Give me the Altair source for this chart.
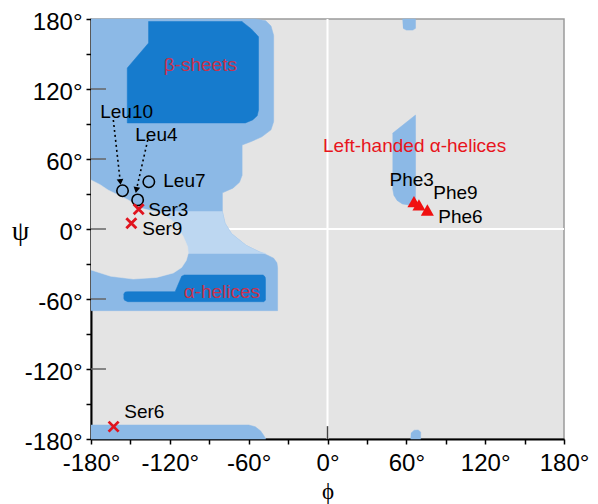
import altair as alt
import pandas as pd

# ---------------- data ----------------
# allowed regions (phi, psi) outlines
light_regions = {
    "upper_left": [(-180, 180), (-55, 180), (-47, 178.5), (-43, 174), (-41, 166), (-41, 92), (-43, 85),
                   (-50, 79), (-58, 75), (-65, 72), (-65, 46), (-67, 40), (-72, 35), (-80, 31), (-80, 15),
                   (-78, 5), (-73, -4), (-62, -14), (-52, -19.5), (-46, -22.3), (-41, -25), (-38.5, -29),
                   (-38, -33), (-38, -70), (-180, -70)],
    "bottom_strip": [(-180, -168), (-60, -168), (-55, -169.5), (-51, -173), (-48.5, -177), (-47, -180),
                     (-180, -180)],
    "left_handed": [(49.5, 82), (67, 97.7), (67, 22), (62, 20.6), (57, 21.5), (53, 24.5), (50.5, 29),
                    (49.5, 35)],
    "top_blob": [(57, 180), (67, 180), (67, 172), (65, 170.5), (60, 170.5), (57.5, 172)],
    "bottom_blob": [(63.2, -180), (70.9, -180), (70.9, -174), (69, -172.3), (66, -172.5), (63.5, -175)],
}
pale_regions = {
    "bridge": [(-180, 15), (-80, 15), (-78, 5), (-73, -4), (-62, -14), (-52, -19.5), (-47, -21),
               (-180, -21)],
}
hole_regions = {
    "hole": [(-180, 42), (-173, 38), (-167, 33.4), (-159, 29), (-151.6, 24.9), (-141.5, 17.7),
             (-131.3, 14.9), (-127.5, 13.4), (-118.6, 7.7), (-113.5, 0.6), (-109.7, -6.6), (-106.4, -15.2),
             (-106, -21), (-107.5, -27), (-111, -33), (-117.3, -37.7), (-130, -41.5), (-147.8, -42.9),
             (-165, -40.5), (-180, -35.1)],
}
dark_regions = {
    "beta_core": [(-136.2, 178), (-136.2, 159.4), (-152.4, 138), (-152.4, 90.9), (-62.5, 90.9),
                  (-57, 93.5), (-53.5, 97), (-52.5, 102), (-52.5, 164.8), (-58, 171.5), (-65, 177.7),
                  (-65, 178)],
    "alpha_core": [(-155.2, -56), (-154, -54), (-152, -53.7), (-116, -53.7), (-111, -40.5), (-109, -39.4),
                   (-49, -39.4), (-47.5, -41), (-47.2, -43), (-47.2, -61), (-48.5, -62.3), (-152, -62.3),
                   (-154.5, -61), (-155.2, -59)],
}

# residues
leu_names = ["Leu10", "Leu4", "Leu7"]
leu_phi = [-156, -144.5, -136]
leu_psi = [32.8, 24.9, 40.5]
leu_lab_phi = [-173, -146.3, -125]
leu_lab_psi = [100.3, 80.6, 41.1]

ser_names = ["Ser3", "Ser9", "Ser6"]
ser_phi = [-143.7, -149.3, -162.8]
ser_psi = [16.9, 4.9, -169.4]
ser_lab_phi = [-136.4, -141, -154.7]
ser_lab_psi = [16.3, 0, -156.9]

phe_names = ["Phe3", "Phe9", "Phe6"]
phe_phi = [65.8, 69.6, 76]
phe_psi = [23.4, 20.6, 16.3]
phe_lab_phi = [47.2, 80.5, 84.3]
phe_lab_psi = [42, 31.1, 10.5]

# dotted arrows (label -> point)
arrow_names = ["Leu10", "Leu4"]
arrow_phi0 = [-163, -136.8]
arrow_psi0 = [93.4, 76.3]
arrow_phi1 = [-157.7, -145.5]
arrow_psi1 = [40.3, 33.4]
arrow_angle = [354, 11]

region_labels = ["β-sheets", "α-helices", "Left-handed α-helices"]
region_lab_phi = [-96.8, -80.4, 66.3]
region_lab_psi = [140.6, -54, 71.4]
region_lab_color = ["#c8324e", "#c8324e", "#e8141c"]

major_ticks = [-120, -60, 0, 60, 120]
axis_ticks = list(range(-180, 181, 30))

# ---------------- helpers ----------------
def poly_df(d):
    rows = []
    for name, pts in d.items():
        for i, (x, y) in enumerate(pts):
            rows.append({"region": name, "i": i, "phi": x, "psi": y})
    return pd.DataFrame(rows)

FONT = "Liberation Sans"

X = alt.X("phi:Q",
          scale=alt.Scale(domain=[-180, 180], nice=False, zero=False),
          axis=alt.Axis(values=axis_ticks, labelExpr="datum.value % 60 == 0 ? datum.value + '°' : ''",
                        grid=False, labelFlush=False, labelOverlap=False, labelFontSize=24, labelFont=FONT,
                        labelColor="black", tickColor="black", tickSize=5, tickWidth=1.5,
                        domainColor="black", domainWidth=2, labelPadding=7,
                        title="ϕ", titleFont="Liberation Serif", titleFontSize=23, titleFontWeight="normal",
                        titleX=236.5, titleY=59, titleBaseline="alphabetic", titleAlign="center"))
Y = alt.Y("psi:Q",
          scale=alt.Scale(domain=[-180, 180], nice=False, zero=False),
          axis=alt.Axis(values=axis_ticks, labelExpr="datum.value % 60 == 0 ? datum.value + '°' : ''",
                        grid=False, labelFlush=False, labelOverlap=False, labelFontSize=24, labelFont=FONT,
                        labelColor="black", tickColor="black", tickSize=5, tickWidth=1.5,
                        domainColor="black", domainWidth=2, labelPadding=4, labelOffset=3,
                        title="ψ", titleFont="Liberation Serif", titleFontSize=28, titleFontWeight="normal",
                        titleAngle=0, titleX=-71, titleY=212, titleBaseline="middle", titleAlign="center"))

def polys(d, color):
    return alt.Chart(poly_df(d)).mark_line(fill=color, stroke=color, strokeWidth=0.5,
                                           interpolate="linear").encode(
        x=X, y=Y, detail="region:N", order="i:Q")

# zero lines
zero_v = alt.Chart(pd.DataFrame({"phi": [0], "psi": [-180], "psi2": [180]})).mark_rule(
    color="white", strokeWidth=2).encode(x=X, y=Y, y2="psi2:Q")
zero_h = alt.Chart(pd.DataFrame({"psi": [0], "phi": [-180], "phi2": [180]})).mark_rule(
    color="white", strokeWidth=2).encode(y=Y, x=X, x2="phi2:Q")

light = polys(light_regions, "#8cb9e6")
pale = polys(pale_regions, "#bdd7f1")
holes = polys(hole_regions, "#e4e4e4")
dark = polys(dark_regions, "#167bcd")

# inner ticks
inner_y = alt.Chart(pd.DataFrame({"psi": major_ticks, "phi": [-180] * 5, "phi2": [-168.6] * 5})).mark_rule(
    color="#666666", strokeWidth=1.5).encode(y=Y, x=X, x2="phi2:Q")
inner_x = alt.Chart(pd.DataFrame({"phi": [0], "psi": [-180], "psi2": [-169]})).mark_rule(
    color="#444444", strokeWidth=1.5).encode(x=X, y=Y, y2="psi2:Q")

# arrows
arrow_rows = []
for n, a0, b0, a1, b1 in zip(arrow_names, arrow_phi0, arrow_psi0, arrow_phi1, arrow_psi1):
    arrow_rows.append({"name": n, "i": 0, "phi": a0, "psi": b0})
    arrow_rows.append({"name": n, "i": 1, "phi": a1, "psi": b1})
arrow_lines = alt.Chart(pd.DataFrame(arrow_rows)).mark_line(
    color="black", strokeWidth=1.6, strokeDash=[2, 3]).encode(x=X, y=Y, detail="name:N", order="i:Q")
arrow_heads = alt.Chart(pd.DataFrame({"phi": arrow_phi1, "psi": arrow_psi1, "ang": arrow_angle})).mark_point(
    shape="triangle-down", filled=True, color="black", size=45, opacity=1).encode(
    x=X, y=Y, angle=alt.Angle("ang:Q", scale=None))

# points
leu_df = pd.DataFrame({"name": leu_names, "phi": leu_phi, "psi": leu_psi})
ser_df = pd.DataFrame({"name": ser_names, "phi": ser_phi, "psi": ser_psi})
phe_df = pd.DataFrame({"name": phe_names, "phi": phe_phi, "psi": phe_psi})

leu_pts = alt.Chart(leu_df).mark_point(shape="circle", filled=False, color="black", size=130,
                                       strokeWidth=1.6, opacity=1).encode(x=X, y=Y)
ser_pts = alt.Chart(ser_df).mark_point(shape="M-1,-1L1,1M1,-1L-1,1", filled=False, color="#e0141e",
                                       size=100, strokeWidth=2.8, opacity=1).encode(x=X, y=Y)
phe_pts = alt.Chart(phe_df).mark_point(shape="triangle-up", filled=True, color="#f01010", size=170,
                                       opacity=1).encode(x=X, y=Y)

lab_df = pd.DataFrame({
    "name": leu_names + ser_names + phe_names,
    "phi": leu_lab_phi + ser_lab_phi + phe_lab_phi,
    "psi": leu_lab_psi + ser_lab_psi + phe_lab_psi,
})
labels = alt.Chart(lab_df).mark_text(align="left", baseline="middle", font=FONT, fontSize=19,
                                     color="black").encode(x=X, y=Y, text="name:N")

reg_df = pd.DataFrame({"name": region_labels, "phi": region_lab_phi, "psi": region_lab_psi,
                       "c": region_lab_color})
reg_labels = alt.Chart(reg_df).mark_text(align="center", baseline="middle", font=FONT,
                                         fontSize=19).encode(x=X, y=Y, text="name:N",
                                                             color=alt.Color("c:N", scale=None))

chart = alt.layer(
    zero_v, zero_h, light, pale, holes, dark, inner_y, inner_x,
    arrow_lines, arrow_heads, leu_pts, ser_pts, phe_pts, labels, reg_labels
).properties(
    width=473, height=420,
    autosize=alt.AutoSizeParams(type="none"),
    padding={"left": 83, "top": 11, "right": 26, "bottom": 65},
).configure_view(
    fill="#e4e4e4", stroke="#9a9a9a", strokeWidth=1.5
)

chart.save("out.html", embed_options={"renderer": "svg", "actions": False})
